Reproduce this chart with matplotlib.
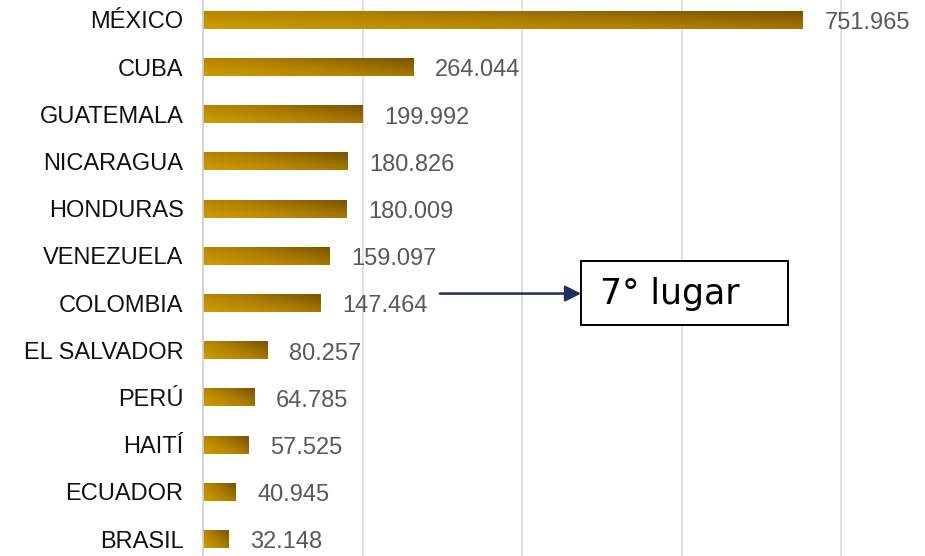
import numpy as np
import matplotlib.pyplot as plt
from matplotlib.colors import LinearSegmentedColormap
from matplotlib.patches import Rectangle

# datos (miles)
paises = ["MÉXICO", "CUBA", "GUATEMALA", "NICARAGUA", "HONDURAS", "VENEZUELA",
          "COLOMBIA", "EL SALVADOR", "PERÚ", "HAITÍ", "ECUADOR", "BRASIL"]
valores = [751.965, 264.044, 199.992, 180.826, 180.009, 159.097,
           147.464, 80.257, 64.785, 57.525, 40.945, 32.148]
etiquetas = ["751.965", "264.044", "199.992", "180.826", "180.009", "159.097",
             "147.464", "80.257", "64.785", "57.525", "40.945", "32.148"]

plt.rcParams["font.family"] = ["Liberation Sans", "DejaVu Sans"]

fig = plt.figure(figsize=(9.25, 5.56), dpi=100)
ax = fig.add_axes([203 / 925, 0, 1 - 203 / 925, 1])

pos = np.arange(len(paises))
alto = 0.38
cmap = LinearSegmentedColormap.from_list("oro", ["#CE9E00", "#B08000", "#7A5300"])

# degradado diagonal en cada barra (fila 0 = arriba, más oscuro a la derecha/arriba)
u = np.linspace(0, 1, 200)[None, :]
w = np.linspace(1, 0, 30)[:, None]
grad = 0.6 * u + 0.4 * w

barras = ax.barh(pos, valores, height=alto, color="none", zorder=2)
for b, val, y, lab in zip(barras, valores, pos, etiquetas):
    im = ax.imshow(grad, cmap=cmap, vmin=0, vmax=1,
                   extent=(0, val, y + alto / 2, y - alto / 2),
                   origin="upper", aspect="auto", zorder=2, interpolation="bilinear")
    im.set_clip_path(b)
    ax.annotate(lab, xy=(val, y), xytext=(15.5, -2.5), textcoords="offset points",
                va="center", ha="left", fontsize=17, color="#595959", zorder=3)

ax.set_xlim(0, 905)
ax.set_ylim(11.36, -0.42)
ax.set_xticks([0, 200, 400, 600, 800])
ax.xaxis.grid(True, color="#d9d9d9", linewidth=1.2, zorder=0)
ax.set_axisbelow(True)
ax.tick_params(axis="x", length=0, labelbottom=False)
ax.set_yticks(pos)
ax.set_yticklabels(paises, fontsize=17, color="#111111")
ax.tick_params(axis="y", length=0, pad=14)
for s in ["top", "right", "bottom"]:
    ax.spines[s].set_visible(False)
ax.spines["left"].set_color("#d0d0d0")
ax.spines["left"].set_linewidth(1.2)

# anotación
ax.annotate("", xy=(474, 5.8), xytext=(297, 5.8),
            arrowprops=dict(arrowstyle="-|>", color="#1F3060", lw=1.8,
                            mutation_scale=24, shrinkA=0, shrinkB=0), zorder=4)
ax.add_patch(Rectangle((474, 5.106), 259.5, 1.354, fc="white", ec="black",
                       lw=1.4, zorder=5))
ax.text(498, 5.8, "7° lugar", fontsize=25, family=["DejaVu Sans"],
        va="center", ha="left", color="black", zorder=6)

fig.savefig("out.png", dpi=100)
